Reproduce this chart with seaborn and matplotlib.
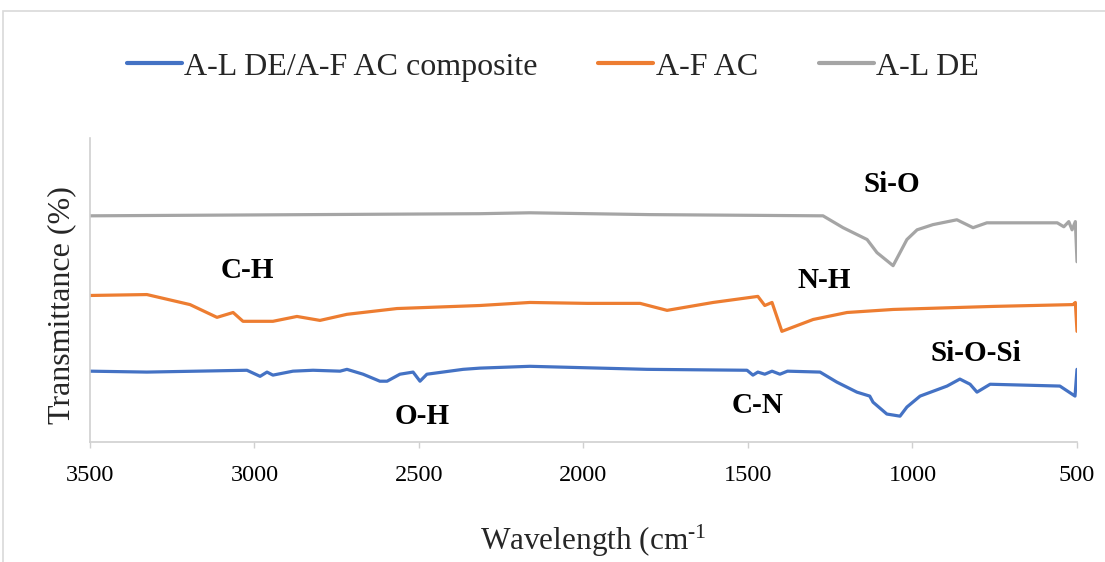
import numpy as np
import pandas as pd
import matplotlib
matplotlib.use("Agg")
import matplotlib.pyplot as plt
from matplotlib.patches import Rectangle
import seaborn as sns

# FTIR spectra (wavenumber in cm-1, transmittance in arbitrary offset units)
wn_composite = [3500, 3327, 3023, 2983, 2962, 2944, 2883, 2822, 2740, 2719, 2670,
                2619, 2597, 2558, 2518, 2497, 2476, 2366, 2315, 2163, 1807, 1503,
                1485, 1470, 1449, 1427, 1403, 1380, 1281, 1230, 1169, 1130, 1120,
                1078, 1038, 1017, 977, 895, 856, 825, 804, 764, 552, 506, 500]
t_composite = [23.3, 23.0, 23.6, 21.6, 23.0, 22.0, 23.3, 23.6, 23.3, 23.9, 22.3,
               20.0, 20.0, 22.3, 23.0, 20.0, 22.3, 23.9, 24.3, 24.9, 23.9, 23.6,
               22.0, 23.0, 22.3, 23.3, 22.3, 23.3, 23.0, 19.7, 16.4, 15.1, 13.1,
               9.2, 8.5, 11.5, 15.1, 18.4, 20.7, 19.0, 16.4, 19.0, 18.4, 15.1, 23.9]

wn_af_ac = [3500, 3327, 3196, 3114, 3065, 3035, 2944, 2871, 2801, 2719, 2567,
            2315, 2163, 1989, 1828, 1746, 1606, 1470, 1449, 1427, 1397, 1302,
            1199, 1059, 755, 512, 505, 500]
t_af_ac = [48.2, 48.5, 45.2, 41.0, 42.6, 39.7, 39.7, 41.3, 40.0, 42.0, 43.9,
           44.9, 45.9, 45.6, 45.6, 43.3, 45.9, 47.9, 44.9, 45.9, 36.4, 40.3,
           42.6, 43.6, 44.6, 45.2, 45.9, 36.4]

wn_al_de = [3500, 2315, 2163, 1800, 1272, 1211, 1138, 1108, 1059, 1017, 986,
            938, 865, 816, 774, 560, 540, 525, 515, 505, 500]
t_al_de = [74.4, 75.1, 75.4, 74.8, 74.4, 70.5, 66.6, 62.3, 58.0, 66.6, 69.8,
           71.5, 73.1, 70.5, 72.1, 72.1, 70.8, 72.5, 69.8, 72.5, 59.3]

series_names = ["A-L DE/A-F AC composite", "A-F AC", "A-L DE"]
series_colors = ["#4472C4", "#ED7D31", "#A5A5A5"]

# band assignments: label, wavenumber, transmittance (baseline position)
band_labels = ["C-H", "O-H", "C-N", "N-H", "Si-O", "Si-O-Si"]
band_wn = [3023, 2491, 1470, 1267, 1063, 808]
band_t = [53.9, 5.9, 9.5, 50.7, 82.2, 26.6]

x_ticks = [3500, 3000, 2500, 2000, 1500, 1000, 500]

df = pd.concat([
    pd.DataFrame({"Wavenumber": wn_composite, "Transmittance": t_composite,
                  "Sample": series_names[0]}),
    pd.DataFrame({"Wavenumber": wn_af_ac, "Transmittance": t_af_ac,
                  "Sample": series_names[1]}),
    pd.DataFrame({"Wavenumber": wn_al_de, "Transmittance": t_al_de,
                  "Sample": series_names[2]}),
], ignore_index=True)

sns.set_theme(style="white")
plt.rcParams["font.family"] = ["Liberation Serif", "DejaVu Serif"]
plt.rcParams["mathtext.fontset"] = "custom"
plt.rcParams["mathtext.rm"] = "Liberation Serif"
plt.rcParams["mathtext.it"] = "Liberation Serif:italic"
plt.rcParams["mathtext.bf"] = "Liberation Serif:bold"

W, H = 1105, 562
fig = plt.figure(figsize=(W / 100, H / 100), dpi=100)
ax = fig.add_axes([90 / W, 1 - 442 / H, (1077 - 90) / W, (442 - 138) / H])

sns.lineplot(data=df, x="Wavenumber", y="Transmittance", hue="Sample",
             hue_order=series_names, palette=series_colors, estimator=None,
             linewidth=2.3, ax=ax, legend=True)

ax.set_xlim(3500, 500)
ax.set_ylim(0, 100)
ax.set_xticks(x_ticks)
ax.set_xticklabels([str(t) for t in x_ticks], fontsize=17.5, color="#000000")
ax.set_yticks([])

for side in ["top", "right"]:
    ax.spines[side].set_visible(False)
for side in ["left", "bottom"]:
    ax.spines[side].set_color("#d0d0d0")
    ax.spines[side].set_linewidth(1.2)
ax.tick_params(axis="x", direction="out", length=4.5, width=1, color="#d0d0d0",
               pad=12, bottom=True)

ax.set_xlabel("Wavelength (cm$^{\\mathrm{\u2010}1}$", fontsize=22.5, labelpad=27)
ax.xaxis.set_label_coords(0.51, -0.265)
ax.xaxis.get_label().set_va("top")
ax.set_ylabel("Transmittance (%)", fontsize=23)
ax.yaxis.set_label_coords(-0.014, 0.45)

for lab, xw, yt in zip(band_labels, band_wn, band_t):
    ax.text(xw, yt, lab, ha="center", va="baseline", fontsize=21,
            fontweight="bold", color="#000000")

handles, labels = ax.get_legend_handles_labels()
ax.get_legend().remove()
for h in handles:
    h.set_linewidth(3)
fig.legend(handles, labels, loc="center", bbox_to_anchor=(553 / W, 1 - 67 / H),
           ncol=3, frameon=False, fontsize=23, handlelength=1.72,
           handletextpad=0.08, columnspacing=1.9, borderpad=0)

fig.patches.append(Rectangle((3 / W, -0.1), 1.2, 1.1 - 11 / H,
                             transform=fig.transFigure, fill=False,
                             edgecolor="#d9d9d9", linewidth=1.2))

fig.savefig("out.png", dpi=100, facecolor="white")
